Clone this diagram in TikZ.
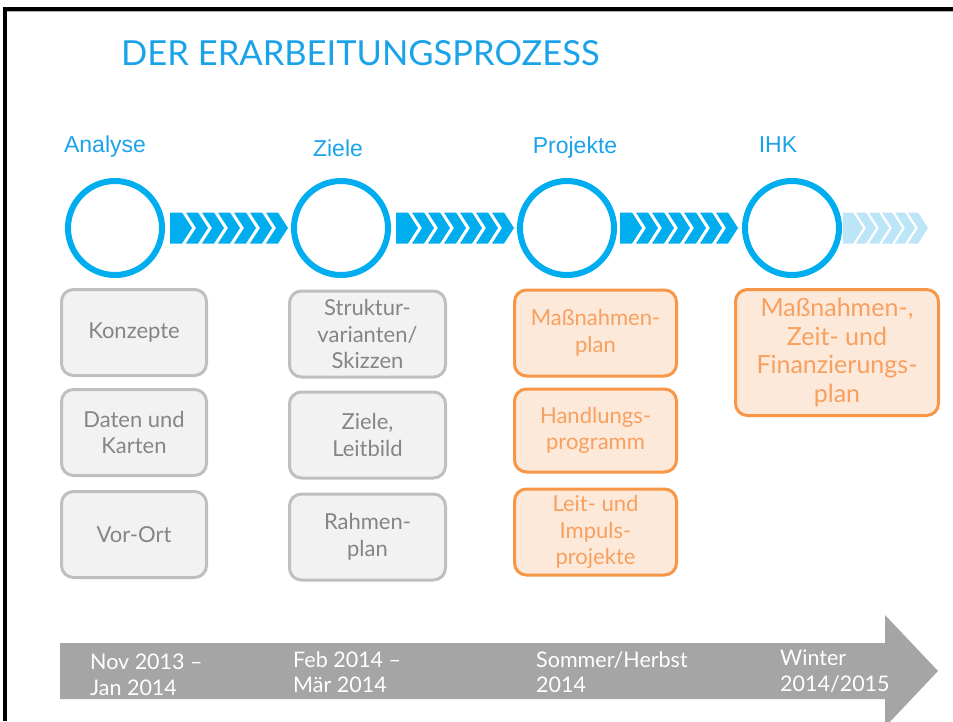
\documentclass[tikz,border=0pt]{standalone}
\usepackage{fontspec}
\setmainfont{Lato}
\newfontfamily\labelfont{Liberation Sans}
\usepackage{xcolor}
\usepackage{tikz}
\usetikzlibrary{positioning}
\usetikzlibrary{backgrounds}
\definecolor{titleblue}{HTML}{1BA3EA}
\definecolor{ringblue}{HTML}{00AEEF}
\definecolor{paleblue}{HTML}{BDE5F8}
\definecolor{boxgray}{HTML}{BFBFBF}
\definecolor{fillgray}{HTML}{F2F2F2}
\definecolor{textgray}{HTML}{858585}
\definecolor{boxorange}{HTML}{F79646}
\definecolor{fillorange}{HTML}{FDE9D9}
\definecolor{textorange}{HTML}{F7A060}
\definecolor{arrowgray}{HTML}{A5A5A5}

% x0, count, period, width, colour
\newcommand{\chevronrow}[5]{%
  \foreach \i in {1,...,#2} {
    \pgfmathsetmacro{\cx}{#1+(\i-1)*#3}
    \ifnum\i=1
      \fill[#5] (\cx,212.5) -- ++(#4,0) -- ++(10,15.5) -- ++(-10,15.5) -- ++(-#4,0) -- cycle;
    \else
      \fill[#5] (\cx,212.5) -- ++(#4,0) -- ++(10,15.5) -- ++(-10,15.5) -- ++(-#4,0) -- ++(10,-15.5) -- cycle;
    \fi
  }}

\begin{document}
\begin{tikzpicture}[x=1pt, y=-1pt,
    node distance = 12pt,
    stage/.style={circle, draw=ringblue, line width=6pt, fill=white,
        minimum size=94pt, inner sep=0pt},
    stagelabel/.style={text=titleblue, font=\labelfont\fontsize{23}{26}\selectfont},
    gbox/.style={draw=boxgray, fill=fillgray, line width=3pt, rounded corners=12pt,
        text=textgray, align=center, inner sep=2pt, minimum height=86pt,
        font=\fontsize{22}{26.5}\selectfont},
    obox/.style={gbox, draw=boxorange, fill=fillorange, text=textorange},
    gline/.style={draw=boxgray, line width=3pt},
    oline/.style={draw=boxorange, line width=3pt},
    datetext/.style={text=white, align=left, anchor=west, inner sep=0pt,
        font=\fontsize{21.5}{25.5}\selectfont}]
  \clip (0,0) rectangle (953,721);
  \fill[white] (0,0) rectangle (953,721);
  \draw[gray!60, line width=1pt] (7,11.3) -- (953,11.3);
  \draw[line width=3.6pt] (5,721) -- (5,8.8) -- (953,8.8);

  \node [anchor=base west, inner sep=0pt, text=titleblue,
         font=\fontsize{34.5}{38}\selectfont] (title) at (121,65) {DER ERARBEITUNGSPROZESS};

  \node [stage] (analyse) at (115,228) {};
  \node [stage] (ziele) at (341,228) {};
  \node [stage] (projekte) at (567,228) {};
  \node [stage] (ihk) at (792,228) {};

  \node [stagelabel] (analyseL) at (105,147) {Analyse};
  \node [stagelabel] (zieleL) at (338,148) {Ziele};
  \node [stagelabel] (projekteL) at (575,148) {Projekte};
  \node [stagelabel] (ihkL) at (778,145) {IHK};

  \chevronrow{170}{7}{16}{12}{ringblue}
  \chevronrow{396}{7}{16}{12}{ringblue}
  \chevronrow{620}{7}{16}{12}{ringblue}
  \chevronrow{843}{6}{13}{10}{paleblue}

  \node [gbox, minimum width=145pt] (konzepte) at (134,332.5) {Konzepte};
  \node [gbox, minimum width=145pt, below=11pt of konzepte] (daten) {Daten und\\Karten};
  \node [gbox, minimum width=145pt, below=13pt of daten] (vorort) {Vor-Ort};

  \node [gbox, minimum width=156pt] (struktur) at (367.5,334) {Struktur-\\varianten/\\Skizzen};
  \node [gbox, minimum width=156pt, below=12pt of struktur] (leitbild) {Ziele,\\Leitbild};
  \node [gbox, minimum width=156pt, below=13pt of leitbild] (rahmenplan) {Rahmen-\\plan};

  \node [obox, minimum width=162pt] (massnahmen) at (595.5,333) {Maßnahmen-\\plan};
  \node [obox, minimum width=162pt, minimum height=83pt, below=10pt of massnahmen] (handlung) {Handlungs-\\programm};
  \node [obox, minimum width=162pt, below=14pt of handlung] (impuls) {Leit- und\\Impuls-\\projekte};

  \node [obox, minimum width=203pt, minimum height=126pt,
         font=\fontsize{25}{28.5}\selectfont] (finanz) at (837,352.5)
        {Maßnahmen-,\\Zeit- und\\Finanzierungs-\\plan};

  \begin{scope}[on background layer]
    \draw [gline] ([xshift=8pt]vorort.north west) -- ([xshift=8pt]vorort.north west |- analyse.center);
    \draw [gline] ([xshift=8pt]rahmenplan.north west) -- ([xshift=8pt]rahmenplan.north west |- ziele.center);
    \draw [oline] ([xshift=9pt]impuls.north west) -- ([xshift=9pt]impuls.north west |- projekte.center);
    \draw [oline] ([xshift=10pt]finanz.north west) -- ([xshift=10pt]finanz.north west |- ihk.center);
  \end{scope}

  \fill [arrowgray] (60,643) -- (885,643) -- (885,615) -- (938,671)
        -- (885,727) -- (885,699) -- (60,699) -- cycle;
  \node [datetext] (nov) at (90,675) {Nov 2013 –\\Jan 2014};
  \node [datetext] (feb) at (293,672) {Feb 2014 –\\Mär 2014};
  \node [datetext] (sommer) at (536,672) {Sommer/Herbst\\2014};
  \node [datetext] (winter) at (780,671) {Winter\\2014/2015};
\end{tikzpicture}
\end{document}
